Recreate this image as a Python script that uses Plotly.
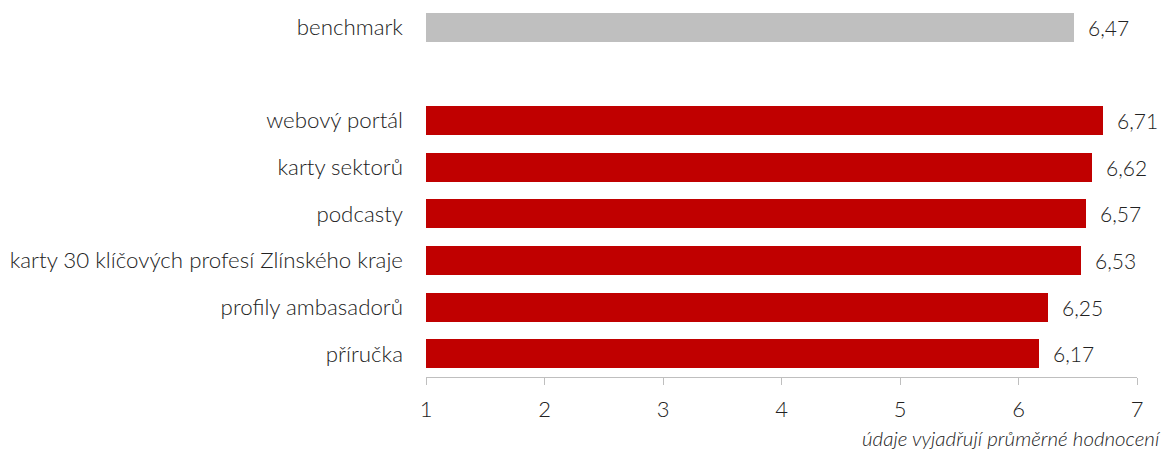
import plotly.graph_objects as go

categories = ["benchmark", "", "webový portál", "karty sektorů", "podcasty",
              "karty 30 klíčových profesí Zlínského kraje", "profily ambasadorů", "příručka"]
values = [6.47, None, 6.71, 6.62, 6.57, 6.53, 6.25, 6.17]
colors = ["#bfbfbf", "#bfbfbf", "#c00000", "#c00000", "#c00000", "#c00000", "#c00000", "#c00000"]
x_ticks = [1, 2, 3, 4, 5, 6, 7]
note = "údaje vyjadřují průměrné hodnocení"

base_val = 1
ypos = list(range(len(categories)))
bar_idx = [i for i, v in enumerate(values) if v is not None]
txt = "#222222"

fig = go.Figure()
fig.add_trace(go.Bar(
    y=[ypos[i] for i in bar_idx],
    x=[values[i] - base_val for i in bar_idx],
    base=base_val,
    orientation="h",
    marker=dict(color=[colors[i] for i in bar_idx], line=dict(width=0)),
    width=0.62,
    hoverinfo="skip",
))

for i in bar_idx:
    fig.add_annotation(x=values[i], y=ypos[i], text=f"{values[i]:.2f}".replace(".", ","),
                       xanchor="left", showarrow=False, xshift=12,
                       font=dict(size=21, color=txt, family="Lato", weight=300))

fig.add_annotation(x=1, y=0, xref="paper", yref="paper", xanchor="right", yanchor="middle",
                   text=note, showarrow=False, xshift=26, yshift=-61,
                   font=dict(size=20.5, color=txt, family="Lato", style="italic", weight=300))

fig.update_layout(
    width=1168, height=450,
    margin=dict(l=426, r=31, t=4, b=73),
    paper_bgcolor="white", plot_bgcolor="white",
    font=dict(family="Lato", size=22, color=txt, weight=300),
    showlegend=False,
    bargap=0,
)
fig.update_xaxes(range=[1, 7], tickvals=x_ticks, ticktext=[str(t) for t in x_ticks],
                 showgrid=False, zeroline=False, showline=True, linecolor="#bfbfbf", linewidth=1,
                 ticks="outside", ticklen=7, tickcolor="#bfbfbf", ticklabelstandoff=6,
                 tickfont=dict(family="Lato", size=22, color=txt, weight=300))
fig.update_yaxes(range=[len(categories) - 0.5, -0.5], tickvals=ypos, ticktext=categories,
                 showgrid=False, zeroline=False, showline=False, ticks="", ticklabelstandoff=22,
                 tickfont=dict(family="Lato", size=22.3, color=txt, weight=300))

fig.write_html("out.html", config={"displayModeBar": False},
               post_script="document.body.style.margin='0';")
